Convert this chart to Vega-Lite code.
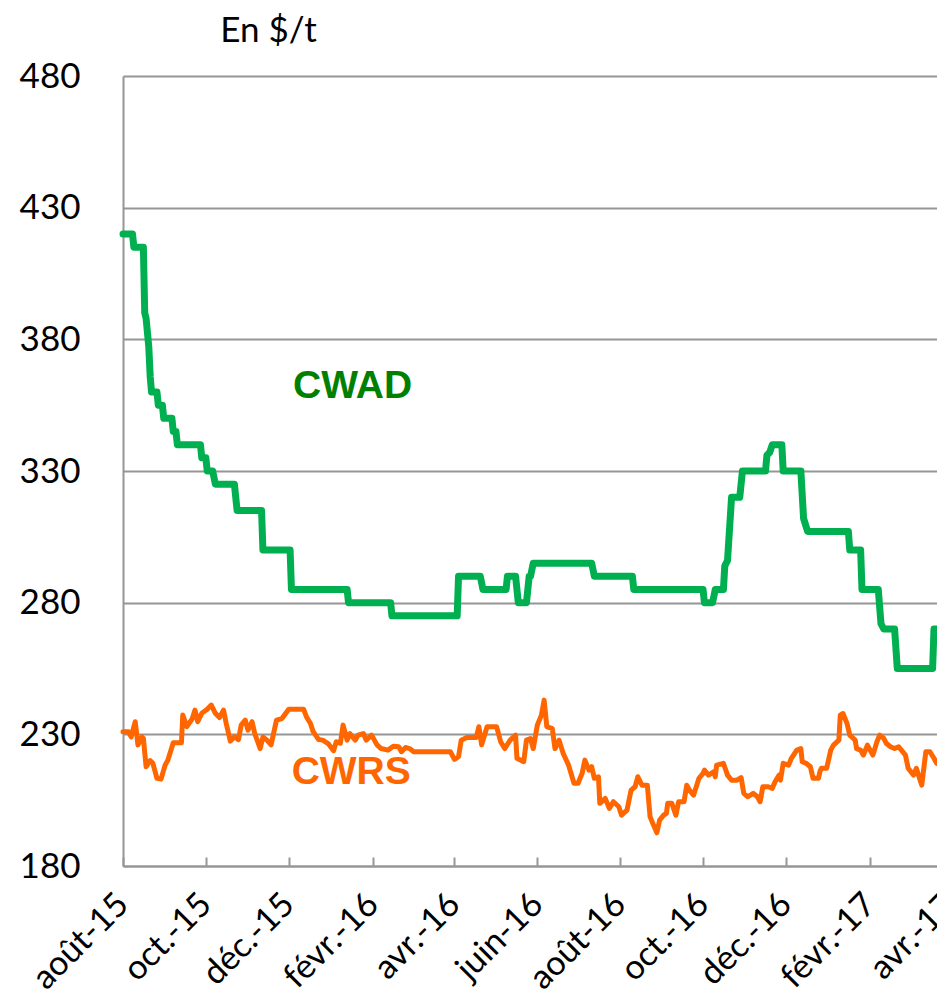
{
  "$schema": "https://vega.github.io/schema/vega-lite/v6.json",
  "width": 830,
  "height": 790,
  "autosize": {"type": "none"},
  "padding": {"left": 123, "top": 76, "right": -16, "bottom": 134},
  "background": "white",
  "config": {
    "view": {"stroke": null},
    "font": "Lato",
    "locale": {
      "time": {
        "dateTime": "%A %e %B %Y à %X",
        "date": "%d/%m/%Y",
        "time": "%H:%M:%S",
        "periods": ["AM", "PM"],
        "days": ["dimanche", "lundi", "mardi", "mercredi", "jeudi", "vendredi", "samedi"],
        "shortDays": ["dim.", "lun.", "mar.", "mer.", "jeu.", "ven.", "sam."],
        "months": ["janvier", "février", "mars", "avril", "mai", "juin", "juillet", "août", "septembre", "octobre", "novembre", "décembre"],
        "shortMonths": ["janv.", "févr.", "mars", "avr.", "mai", "juin", "juil.", "août", "sept.", "oct.", "nov.", "déc."]
      }
    }
  },
  "datasets": {
    "cwad": [
      {"date": "2015-08-01", "value": 420},
      {"date": "2015-08-08", "value": 420},
      {"date": "2015-08-09", "value": 415},
      {"date": "2015-08-16", "value": 415},
      {"date": "2015-08-17", "value": 390},
      {"date": "2015-08-18", "value": 388},
      {"date": "2015-08-20", "value": 377},
      {"date": "2015-08-21", "value": 366},
      {"date": "2015-08-22", "value": 360},
      {"date": "2015-08-26", "value": 360},
      {"date": "2015-08-27", "value": 355},
      {"date": "2015-08-30", "value": 355},
      {"date": "2015-08-31", "value": 350},
      {"date": "2015-09-06", "value": 350},
      {"date": "2015-09-07", "value": 345},
      {"date": "2015-09-09", "value": 345},
      {"date": "2015-09-10", "value": 340},
      {"date": "2015-09-27", "value": 340},
      {"date": "2015-09-28", "value": 335},
      {"date": "2015-10-01", "value": 335},
      {"date": "2015-10-02", "value": 330},
      {"date": "2015-10-06", "value": 330},
      {"date": "2015-10-08", "value": 325},
      {"date": "2015-10-22", "value": 325},
      {"date": "2015-10-24", "value": 315},
      {"date": "2015-11-11", "value": 315},
      {"date": "2015-11-12", "value": 300},
      {"date": "2015-12-02", "value": 300},
      {"date": "2015-12-03", "value": 285},
      {"date": "2016-01-13", "value": 285},
      {"date": "2016-01-14", "value": 280},
      {"date": "2016-02-14", "value": 280},
      {"date": "2016-02-15", "value": 275},
      {"date": "2016-04-03", "value": 275},
      {"date": "2016-04-04", "value": 290},
      {"date": "2016-04-20", "value": 290},
      {"date": "2016-04-22", "value": 285},
      {"date": "2016-05-09", "value": 285},
      {"date": "2016-05-10", "value": 290},
      {"date": "2016-05-16", "value": 290},
      {"date": "2016-05-18", "value": 280},
      {"date": "2016-05-24", "value": 280},
      {"date": "2016-05-26", "value": 290},
      {"date": "2016-05-27", "value": 290},
      {"date": "2016-05-29", "value": 295},
      {"date": "2016-07-11", "value": 295},
      {"date": "2016-07-13", "value": 290},
      {"date": "2016-08-10", "value": 290},
      {"date": "2016-08-11", "value": 285},
      {"date": "2016-10-01", "value": 285},
      {"date": "2016-10-02", "value": 280},
      {"date": "2016-10-08", "value": 280},
      {"date": "2016-10-10", "value": 285},
      {"date": "2016-10-16", "value": 285},
      {"date": "2016-10-17", "value": 294},
      {"date": "2016-10-19", "value": 296},
      {"date": "2016-10-22", "value": 320},
      {"date": "2016-10-28", "value": 320},
      {"date": "2016-10-30", "value": 330},
      {"date": "2016-11-16", "value": 330},
      {"date": "2016-11-17", "value": 336},
      {"date": "2016-11-19", "value": 337},
      {"date": "2016-11-21", "value": 340},
      {"date": "2016-11-28", "value": 340},
      {"date": "2016-11-29", "value": 330},
      {"date": "2016-12-12", "value": 330},
      {"date": "2016-12-14", "value": 312},
      {"date": "2016-12-17", "value": 307},
      {"date": "2017-01-16", "value": 307},
      {"date": "2017-01-17", "value": 300},
      {"date": "2017-01-25", "value": 300},
      {"date": "2017-01-26", "value": 285},
      {"date": "2017-02-07", "value": 285},
      {"date": "2017-02-09", "value": 272},
      {"date": "2017-02-11", "value": 270},
      {"date": "2017-02-19", "value": 270},
      {"date": "2017-02-21", "value": 255},
      {"date": "2017-03-19", "value": 255},
      {"date": "2017-03-20", "value": 270},
      {"date": "2017-03-22", "value": 270}
    ],
    "cwrs": [
      {"date": "2015-08-01", "value": 231},
      {"date": "2015-08-05", "value": 231},
      {"date": "2015-08-07", "value": 229},
      {"date": "2015-08-10", "value": 234.8},
      {"date": "2015-08-12", "value": 226},
      {"date": "2015-08-15", "value": 229},
      {"date": "2015-08-16", "value": 228.5},
      {"date": "2015-08-18", "value": 217.7},
      {"date": "2015-08-21", "value": 220},
      {"date": "2015-08-23", "value": 219},
      {"date": "2015-08-26", "value": 213.3},
      {"date": "2015-08-29", "value": 213},
      {"date": "2015-09-01", "value": 218.3},
      {"date": "2015-09-03", "value": 220.2},
      {"date": "2015-09-07", "value": 226.8},
      {"date": "2015-09-13", "value": 226.8},
      {"date": "2015-09-14", "value": 237.3},
      {"date": "2015-09-17", "value": 232.9},
      {"date": "2015-09-21", "value": 236},
      {"date": "2015-09-23", "value": 239.2},
      {"date": "2015-09-25", "value": 234.8},
      {"date": "2015-09-28", "value": 238},
      {"date": "2015-10-02", "value": 239.5},
      {"date": "2015-10-05", "value": 241.1},
      {"date": "2015-10-08", "value": 238},
      {"date": "2015-10-11", "value": 236.4},
      {"date": "2015-10-14", "value": 239.2},
      {"date": "2015-10-16", "value": 234.1},
      {"date": "2015-10-19", "value": 227.4},
      {"date": "2015-10-22", "value": 229.1},
      {"date": "2015-10-25", "value": 228},
      {"date": "2015-10-27", "value": 233.5},
      {"date": "2015-10-30", "value": 235.4},
      {"date": "2015-11-01", "value": 231.6},
      {"date": "2015-11-04", "value": 234.8},
      {"date": "2015-11-06", "value": 230.3},
      {"date": "2015-11-10", "value": 224.6},
      {"date": "2015-11-12", "value": 229},
      {"date": "2015-11-15", "value": 227.8},
      {"date": "2015-11-18", "value": 226},
      {"date": "2015-11-22", "value": 235.4},
      {"date": "2015-11-26", "value": 236},
      {"date": "2015-12-01", "value": 239.5},
      {"date": "2015-12-12", "value": 239.5},
      {"date": "2015-12-14", "value": 236.7},
      {"date": "2015-12-17", "value": 234.1},
      {"date": "2015-12-19", "value": 231},
      {"date": "2015-12-23", "value": 228},
      {"date": "2015-12-26", "value": 227.8},
      {"date": "2015-12-30", "value": 226.5},
      {"date": "2016-01-03", "value": 223.8},
      {"date": "2016-01-05", "value": 227.2},
      {"date": "2016-01-08", "value": 226.6},
      {"date": "2016-01-10", "value": 233.5},
      {"date": "2016-01-13", "value": 227.8},
      {"date": "2016-01-15", "value": 230.3},
      {"date": "2016-01-19", "value": 227.8},
      {"date": "2016-01-21", "value": 229.7},
      {"date": "2016-01-25", "value": 230.3},
      {"date": "2016-01-27", "value": 227.8},
      {"date": "2016-01-31", "value": 229.7},
      {"date": "2016-02-04", "value": 226},
      {"date": "2016-02-07", "value": 224.6},
      {"date": "2016-02-12", "value": 224},
      {"date": "2016-02-16", "value": 225.5},
      {"date": "2016-02-20", "value": 225.3},
      {"date": "2016-02-22", "value": 223.4},
      {"date": "2016-02-25", "value": 225},
      {"date": "2016-02-28", "value": 224.6},
      {"date": "2016-03-02", "value": 223.4},
      {"date": "2016-03-29", "value": 223.4},
      {"date": "2016-04-01", "value": 220.5},
      {"date": "2016-04-04", "value": 221.5},
      {"date": "2016-04-06", "value": 227.8},
      {"date": "2016-04-10", "value": 228.8},
      {"date": "2016-04-17", "value": 228.8},
      {"date": "2016-04-19", "value": 232.9},
      {"date": "2016-04-21", "value": 226},
      {"date": "2016-04-25", "value": 232.9},
      {"date": "2016-05-02", "value": 232.9},
      {"date": "2016-05-05", "value": 227.2},
      {"date": "2016-05-08", "value": 224.6},
      {"date": "2016-05-12", "value": 227.8},
      {"date": "2016-05-16", "value": 229.7},
      {"date": "2016-05-17", "value": 220.9},
      {"date": "2016-05-22", "value": 219.6},
      {"date": "2016-05-24", "value": 227.8},
      {"date": "2016-05-27", "value": 228.4},
      {"date": "2016-05-29", "value": 224.6},
      {"date": "2016-06-01", "value": 233.5},
      {"date": "2016-06-04", "value": 237.3},
      {"date": "2016-06-06", "value": 243},
      {"date": "2016-06-08", "value": 232.9},
      {"date": "2016-06-12", "value": 232.2},
      {"date": "2016-06-14", "value": 224.6},
      {"date": "2016-06-17", "value": 227.8},
      {"date": "2016-06-20", "value": 222.8},
      {"date": "2016-06-24", "value": 218.3},
      {"date": "2016-06-28", "value": 211.4},
      {"date": "2016-07-01", "value": 211.4},
      {"date": "2016-07-04", "value": 215.2},
      {"date": "2016-07-06", "value": 220.2},
      {"date": "2016-07-09", "value": 216.4},
      {"date": "2016-07-11", "value": 217.7},
      {"date": "2016-07-13", "value": 213.3},
      {"date": "2016-07-16", "value": 213.9},
      {"date": "2016-07-17", "value": 203.8},
      {"date": "2016-07-21", "value": 205.7},
      {"date": "2016-07-24", "value": 201.9},
      {"date": "2016-07-27", "value": 204.4},
      {"date": "2016-07-31", "value": 202.5},
      {"date": "2016-08-02", "value": 199.3},
      {"date": "2016-08-06", "value": 201.2},
      {"date": "2016-08-09", "value": 208.8},
      {"date": "2016-08-12", "value": 210.1},
      {"date": "2016-08-14", "value": 213.9},
      {"date": "2016-08-17", "value": 210.7},
      {"date": "2016-08-21", "value": 210.7},
      {"date": "2016-08-23", "value": 198.7},
      {"date": "2016-08-25", "value": 196.2},
      {"date": "2016-08-28", "value": 192.6},
      {"date": "2016-08-30", "value": 197.4},
      {"date": "2016-09-02", "value": 199.3},
      {"date": "2016-09-04", "value": 200},
      {"date": "2016-09-05", "value": 203.8},
      {"date": "2016-09-08", "value": 203.8},
      {"date": "2016-09-11", "value": 199.3},
      {"date": "2016-09-13", "value": 204.4},
      {"date": "2016-09-17", "value": 204.4},
      {"date": "2016-09-19", "value": 210.7},
      {"date": "2016-09-21", "value": 208.8},
      {"date": "2016-09-24", "value": 206.9},
      {"date": "2016-09-28", "value": 213.3},
      {"date": "2016-10-01", "value": 215.2},
      {"date": "2016-10-02", "value": 216.4},
      {"date": "2016-10-05", "value": 214.5},
      {"date": "2016-10-09", "value": 215.8},
      {"date": "2016-10-10", "value": 213.9},
      {"date": "2016-10-11", "value": 218.3},
      {"date": "2016-10-16", "value": 219},
      {"date": "2016-10-19", "value": 214.5},
      {"date": "2016-10-22", "value": 212.6},
      {"date": "2016-10-26", "value": 212.6},
      {"date": "2016-10-29", "value": 213.6},
      {"date": "2016-10-31", "value": 207.6},
      {"date": "2016-11-03", "value": 206.3},
      {"date": "2016-11-07", "value": 207.6},
      {"date": "2016-11-10", "value": 206.3},
      {"date": "2016-11-12", "value": 204.4},
      {"date": "2016-11-14", "value": 210.1},
      {"date": "2016-11-18", "value": 210.1},
      {"date": "2016-11-21", "value": 209.5},
      {"date": "2016-11-23", "value": 212},
      {"date": "2016-11-26", "value": 214.5},
      {"date": "2016-11-27", "value": 212.6},
      {"date": "2016-11-29", "value": 219},
      {"date": "2016-12-03", "value": 218.3},
      {"date": "2016-12-05", "value": 220.9},
      {"date": "2016-12-09", "value": 224},
      {"date": "2016-12-12", "value": 224.6},
      {"date": "2016-12-13", "value": 219.6},
      {"date": "2016-12-16", "value": 219},
      {"date": "2016-12-19", "value": 217.7},
      {"date": "2016-12-21", "value": 213.3},
      {"date": "2016-12-25", "value": 213.3},
      {"date": "2016-12-26", "value": 215.8},
      {"date": "2016-12-27", "value": 217.1},
      {"date": "2016-12-31", "value": 217.1},
      {"date": "2017-01-03", "value": 224},
      {"date": "2017-01-05", "value": 225.9},
      {"date": "2017-01-09", "value": 227.8},
      {"date": "2017-01-10", "value": 237.3},
      {"date": "2017-01-12", "value": 237.9},
      {"date": "2017-01-15", "value": 234.1},
      {"date": "2017-01-17", "value": 229.7},
      {"date": "2017-01-21", "value": 227.8},
      {"date": "2017-01-22", "value": 224.6},
      {"date": "2017-01-25", "value": 224},
      {"date": "2017-01-27", "value": 222.1},
      {"date": "2017-01-30", "value": 225.9},
      {"date": "2017-02-01", "value": 224},
      {"date": "2017-02-03", "value": 222.1},
      {"date": "2017-02-06", "value": 227.2},
      {"date": "2017-02-08", "value": 229.7},
      {"date": "2017-02-11", "value": 228.5},
      {"date": "2017-02-13", "value": 226.5},
      {"date": "2017-02-16", "value": 225.3},
      {"date": "2017-02-19", "value": 224.6},
      {"date": "2017-02-22", "value": 225.3},
      {"date": "2017-02-24", "value": 224},
      {"date": "2017-02-27", "value": 222.1},
      {"date": "2017-03-01", "value": 217.1},
      {"date": "2017-03-05", "value": 214.5},
      {"date": "2017-03-07", "value": 217.1},
      {"date": "2017-03-11", "value": 210.7},
      {"date": "2017-03-14", "value": 223.4},
      {"date": "2017-03-17", "value": 223.4},
      {"date": "2017-03-20", "value": 220.9},
      {"date": "2017-03-22", "value": 219}
    ],
    "labels": [
      {"label": "CWAD", "date": "2016-01-17", "value": 357.7},
      {"label": "CWRS", "date": "2016-01-16", "value": 211}
    ]
  },
  "encoding": {
    "x": {
      "field": "date",
      "type": "temporal",
      "scale": {
        "type": "utc",
        "domain": [
          {"year": 2015, "month": 8, "date": 1, "utc": true},
          {"year": 2017, "month": 4, "date": 3, "utc": true}
        ]
      },
      "axis": {
        "title": null,
        "format": "%b-%y",
        "values": [
          {"year": 2015, "month": 8, "date": 1, "utc": true},
          {"year": 2015, "month": 10, "date": 1, "utc": true},
          {"year": 2015, "month": 12, "date": 1, "utc": true},
          {"year": 2016, "month": 2, "date": 1, "utc": true},
          {"year": 2016, "month": 4, "date": 1, "utc": true},
          {"year": 2016, "month": 6, "date": 1, "utc": true},
          {"year": 2016, "month": 8, "date": 1, "utc": true},
          {"year": 2016, "month": 10, "date": 1, "utc": true},
          {"year": 2016, "month": 12, "date": 1, "utc": true},
          {"year": 2017, "month": 2, "date": 1, "utc": true},
          {"year": 2017, "month": 4, "date": 1, "utc": true}
        ],
        "grid": false,
        "domain": true,
        "domainColor": "#969696",
        "domainWidth": 2,
        "ticks": true,
        "tickColor": "#969696",
        "tickWidth": 2,
        "tickSize": -9,
        "labelAngle": -45,
        "labelAlign": "right",
        "labelBaseline": "middle",
        "labelPadding": 42,
        "labelDx": -2,
        "labelFont": "Lato",
        "labelFontSize": 34,
        "labelColor": "#000000",
        "labelOverlap": false,
        "labelBound": false,
        "labelFlush": false
      }
    },
    "y": {
      "field": "value",
      "type": "quantitative",
      "scale": {"domain": [180, 480], "zero": false, "nice": false},
      "axis": {
        "values": [180, 230, 280, 330, 380, 430, 480],
        "grid": true,
        "gridColor": "#969696",
        "gridWidth": 2,
        "domain": true,
        "domainColor": "#969696",
        "domainWidth": 2,
        "ticks": false,
        "labelPadding": 43,
        "labelFont": "Lato",
        "labelFontSize": 35,
        "labelColor": "#000000",
        "title": "En $/t",
        "titleAngle": 0,
        "titleFont": "Lato",
        "titleFontSize": 35,
        "titleFontWeight": "normal",
        "titleColor": "#000000",
        "titleAlign": "center",
        "titleBaseline": "alphabetic",
        "titleX": 145,
        "titleY": -35
      }
    }
  },
  "layer": [
    {
      "data": {"name": "cwad"},
      "mark": {"type": "line", "color": "#00B050", "strokeWidth": 7, "strokeJoin": "round", "strokeCap": "round"}
    },
    {
      "data": {"name": "cwrs"},
      "mark": {"type": "line", "color": "#FF6600", "strokeWidth": 5, "strokeJoin": "round", "strokeCap": "round"}
    },
    {
      "data": {"name": "labels"},
      "mark": {"type": "text", "font": "Liberation Sans", "fontWeight": "bold", "fontSize": 39, "align": "center", "baseline": "alphabetic"},
      "encoding": {
        "text": {"field": "label", "type": "nominal"},
        "color": {
          "field": "label",
          "type": "nominal",
          "scale": {"domain": ["CWAD", "CWRS"], "range": ["#008000", "#FF6600"]},
          "legend": null
        }
      }
    }
  ]
}
